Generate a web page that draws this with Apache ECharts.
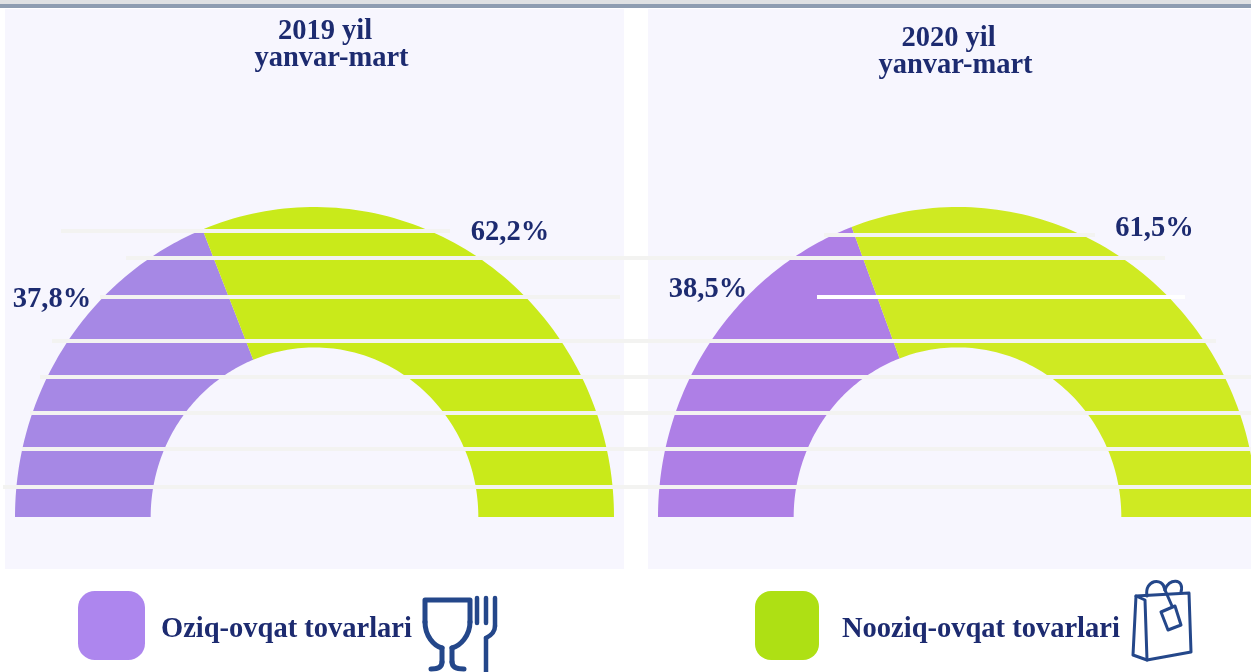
<!DOCTYPE html>
<html>
<head>
<meta charset="utf-8">
<title>Oziq-ovqat va nooziq-ovqat tovarlari</title>
<script src="https://cdn.jsdelivr.net/npm/echarts@6/dist/echarts.min.js"></script>
<style>
  html, body { margin: 0; padding: 0; background: #fff; }
  #main { width: 1251px; height: 672px; }
</style>
</head>
<body>
<div id="main"></div>
<script>
var chartDom = document.getElementById('main');
var myChart = echarts.init(chartDom);

const years = ['2019 yil', '2020 yil'];
const months = ['yanvar-mart', 'yanvar-mart'];
const categories = ['Oziq-ovqat tovarlari', 'Nooziq-ovqat tovarlari'];
const foodShare = [37.8, 38.5];
const nonFoodShare = [62.2, 61.5];

const ink = '#1d2b70';
const iconBlue = '#24478a';
const fontFamily = '"Liberation Serif", "Times New Roman", serif';
const innerRatio = 0.547;

const purples = ['#a688e5', '#ae7fe6'];
const greens = ['#c9ea1a', '#cfea22'];

// faint bands left over the picture: [y, from, to, colour]
const stripes = [
  [231, 61, 450, '#f3f3f1'],
  [258, 126, 1165, '#f3f3f1'],
  [297, 100, 620, '#f3f3f1'],
  [341, 52, 1216, '#f3f3f1'],
  [377, 40, 1251, '#f3f3f1'],
  [413, 30, 1251, '#f3f3f1'],
  [449, 22, 1251, '#f3f3f1'],
  [487, 3, 1251, '#f3f3f1'],
  [235, 824, 1095, '#f3f3f1'],
  [297, 817, 1185, '#ffffff']
];

function pct(v) {
  return v.toFixed(1).replace('.', ',') + '%';
}

// half ring sector on a grid with x -1..1, y 0..1, so the grid stretches it
function renderRing(params, api) {
  const from = api.value(0) / 100 * Math.PI;
  const to = api.value(1) / 100 * Math.PI;
  const pts = [];
  const steps = 90;
  for (let i = 0; i <= steps; i++) {
    const a = Math.PI - (from + (to - from) * i / steps);
    pts.push(api.coord([Math.cos(a), Math.sin(a)]));
  }
  for (let i = steps; i >= 0; i--) {
    const a = Math.PI - (from + (to - from) * i / steps);
    pts.push(api.coord([innerRatio * Math.cos(a), innerRatio * Math.sin(a)]));
  }
  return {
    type: 'polygon',
    shape: { points: pts },
    style: { fill: api.visual('color') }
  };
}

function ringSeries(name, gridIndex, color, from, to) {
  return {
    name: name,
    type: 'custom',
    coordinateSystem: 'cartesian2d',
    xAxisIndex: gridIndex,
    yAxisIndex: gridIndex,
    silent: true,
    z: 2,
    clip: false,
    itemStyle: { color: color },
    renderItem: renderRing,
    data: [[from, to]]
  };
}

const series = [];
years.forEach(function (p, i) {
  series.push(ringSeries(categories[0], i, purples[i], 0, foodShare[i]));
  series.push(ringSeries(categories[1], i, greens[i], foodShare[i], 100));
});

const hiddenY = { type: 'value', min: 0, max: 1, show: false };

function label(text, x, y) {
  return {
    type: 'text', x: x, y: y + 4, z: 20,
    style: {
      text: text, fill: ink, align: 'center', verticalAlign: 'middle',
      font: 'bold 28.5px ' + fontFamily
    }
  };
}

function pen(lineWidth) {
  return { fill: null, stroke: iconBlue, lineWidth: lineWidth, lineCap: 'round', lineJoin: 'round' };
}
function poly(points, lineWidth) {
  return { type: 'polyline', z: 20, shape: { points: points }, style: pen(lineWidth) };
}
function curve(x1, y1, cx1, cy1, cx2, cy2, x2, y2, lineWidth) {
  return {
    type: 'bezierCurve', z: 20,
    shape: { x1: x1, y1: y1, cpx1: cx1, cpy1: cy1, cpx2: cx2, cpy2: cy2, x2: x2, y2: y2 },
    style: pen(lineWidth)
  };
}

const graphic = [
  { type: 'rect', z: 0, shape: { x: 0, y: 0, width: 1251, height: 4 }, style: { fill: '#dfe1e3' } },
  { type: 'rect', z: 0, shape: { x: 0, y: 4, width: 1251, height: 4 }, style: { fill: '#8e9db1' } },
  { type: 'rect', z: 0, shape: { x: 5, y: 9, width: 619, height: 560 }, style: { fill: '#f7f6fe' } },
  { type: 'rect', z: 0, shape: { x: 648, y: 9, width: 603, height: 560 }, style: { fill: '#f7f6fe' } },
  label(years[0], 325, 28),
  label(months[0], 331.5, 55),
  label(years[1], 948.5, 35),
  label(months[1], 955.5, 62),
  label(pct(foodShare[0]), 52, 296),
  label(pct(nonFoodShare[0]), 510, 229),
  label(pct(foodShare[1]), 708, 286),
  label(pct(nonFoodShare[1]), 1154.5, 225),
  // glass
  poly([[425, 622], [425, 600], [470, 600], [470, 622]], 5),
  curve(425, 622, 425, 636, 434, 646, 442, 648, 5),
  curve(470, 622, 470, 636, 460, 646, 452, 648, 5),
  poly([[442, 648], [442, 662]], 5),
  poly([[452, 648], [452, 662]], 5),
  curve(442, 662, 442, 667, 438, 669, 431, 669, 5),
  curve(452, 662, 452, 667, 456, 669, 464, 669, 5),
  // fork
  poly([[477, 598], [477, 623]], 4.5),
  poly([[486, 598], [486, 623]], 4.5),
  poly([[495, 598], [495, 626]], 4.5),
  curve(495, 626, 495, 632, 490, 636, 486, 638, 4.5),
  poly([[486, 638], [486, 674]], 4.5),
  // bag
  poly([[1136, 596], [1189, 593], [1191, 652], [1147, 660], [1133, 655], [1136, 596]], 3),
  poly([[1136, 596], [1145, 600], [1147, 660]], 3),
  curve(1147, 596, 1144, 580, 1163, 576, 1165, 590, 3),
  curve(1165, 590, 1168, 578, 1185, 578, 1181, 592, 3),
  poly([[1165, 590], [1172, 606]], 3),
  poly([[1161, 612], [1175, 606], [1181, 625], [1168, 630], [1161, 612]], 3)
];
stripes.forEach(function (s) {
  graphic.push({
    type: 'rect', z: 10,
    shape: { x: s[1], y: s[0] - 2, width: s[2] - s[1], height: 4 },
    style: { fill: s[3] }
  });
});

function legendFor(name, left, itemWidth, gap, color) {
  return {
    data: [name],
    left: left,
    top: 591,
    padding: 0,
    icon: 'roundRect',
    itemWidth: itemWidth,
    itemHeight: 69,
    itemStyle: { color: color },
    selectedMode: false,
    z: 20,
    formatter: '{t|{name}}',
    textStyle: {
      rich: {
        t: {
          color: ink, fontFamily: fontFamily, fontWeight: 'bold', fontSize: 28.5,
          padding: [8, 0, 0, gap]
        }
      }
    }
  };
}

var option = {
  backgroundColor: '#ffffff',
  animation: false,
  legend: [
    legendFor(categories[0], 78, 67, 11, '#ad86ee'),
    legendFor(categories[1], 755, 64, 18, '#aee014')
  ],
  // the second half ring runs past the right edge of the page, so its axis stops at 0.98
  grid: [
    { left: 15, top: 207, width: 599, height: 310 },
    { left: 658, top: 207, width: 593, height: 310 }
  ],
  xAxis: [
    { gridIndex: 0, type: 'value', min: -1, max: 1, show: false },
    { gridIndex: 1, type: 'value', min: -1, max: 0.98, show: false }
  ],
  yAxis: [
    Object.assign({ gridIndex: 0 }, hiddenY),
    Object.assign({ gridIndex: 1 }, hiddenY)
  ],
  graphic: graphic,
  series: series
};

option && myChart.setOption(option);
</script>
</body>
</html>
